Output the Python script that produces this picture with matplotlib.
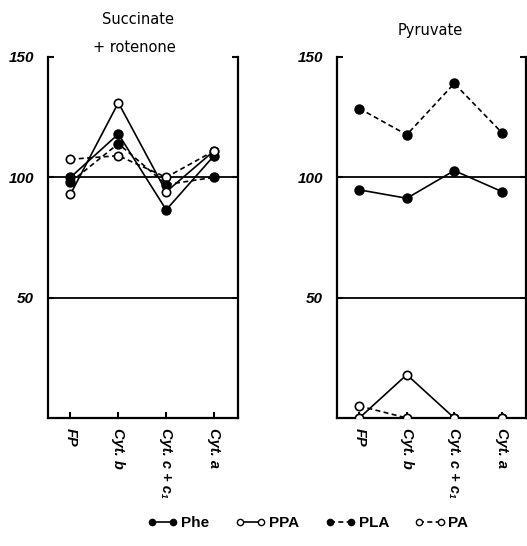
import matplotlib
matplotlib.use("Agg")
import matplotlib.pyplot as plt
import numpy as np
from matplotlib.lines import Line2D

categories = ["FP", "Cyt. b", "Cyt. c + c\u2081", "Cyt. a"]
yticks = [50, 100, 150]

# Succinate + rotenone panel
suc_phe = [100, 118, 86.5, 109]
suc_ppa = [93, 131, 94, 111]
suc_pla = [98, 114, 97, 100]
suc_pa = [107.5, 109, 100, 111]

# Pyruvate panel
pyr_phe = [94.8, 91.3, 102.8, 94.1]
pyr_ppa = [0, 18, 0, 0]
pyr_pla = [128.6, 117.7, 139, 118.6]
pyr_pa = [5, 0, 0, 0]

W, H = 527, 546
fig = plt.figure(figsize=(W / 100, H / 100), dpi=100)

def frac_axes(x0, x1, ytop, ybot):
    return fig.add_axes([x0 / W, 1 - ybot / H, (x1 - x0) / W, (ybot - ytop) / H])

ax1 = frac_axes(48, 238, 57, 418)
ax2 = frac_axes(337, 525.5, 57, 418)

tick_font = dict(family="Liberation Sans", style="italic", weight="bold", size=11)
xlab_font = dict(family="Liberation Sans", style="italic", weight="bold", size=10.5)

styles = {
    "Phe": dict(color="black", ls="-", marker="o", mfc="black", mec="black", ms=6.5),
    "PPA": dict(color="black", ls="-", marker="o", mfc="white", mec="black", ms=6, mew=1.2),
    "PLA": dict(color="black", ls=(0, (3, 2)), marker="o", mfc="black", mec="black", ms=6.5),
    "PA": dict(color="black", ls=(0, (3, 2)), marker="o", mfc="white", mec="black", ms=6, mew=1.2),
}

x = np.arange(len(categories))
for ax, series in [
    (ax1, [("PA", suc_pa), ("PLA", suc_pla), ("Phe", suc_phe), ("PPA", suc_ppa)]),
    (ax2, [("PA", pyr_pa), ("PLA", pyr_pla), ("Phe", pyr_phe), ("PPA", pyr_ppa)]),
]:
    for yv in [50, 100]:
        ax.axhline(yv, color="black", lw=1.3, zorder=1)
    for name, vals in series:
        ax.plot(x, vals, lw=1.2, zorder=3, **styles[name])
    ax.set_xlim(-0.47, 3.5)
    ax.set_ylim(0, 150)
    for s in ax.spines.values():
        s.set_linewidth(1.6)
    ax.spines["top"].set_visible(False)
    ax.set_xticks(x)
    ax.set_xticklabels(categories, rotation=-90, va="top", ha="center", **xlab_font)
    ax.set_yticks(yticks)
    ax.set_yticklabels([str(v) for v in yticks], **tick_font)
    ax.tick_params(axis="y", direction="in", left=True, right=True, length=4, width=1.5, pad=10)
    ax.tick_params(axis="x", direction="in", length=4, width=1.5, pad=7)

title_font = dict(family="DejaVu Sans", size=10.5, weight="medium")
fig.text(138 / W, 1 - 20 / H, "Succinate", ha="center", va="center", **title_font)
fig.text(134 / W, 1 - 47 / H, "+ rotenone", ha="center", va="center", **title_font)
fig.text(430 / W, 1 - 30 / H, "Pyruvate", ha="center", va="center", **title_font)

handles = []
labels = ["Phe", "PPA", "PLA", "PA"]
for name in labels:
    st = dict(styles[name])
    st["ms"] = 4.5
    st["mew"] = 1.0
    handles.append(Line2D([0, 1], [0, 0], lw=1.2, **st))
fig.legend(handles, labels, loc="center", bbox_to_anchor=(308 / W, 1 - 523 / H), ncol=4,
           frameon=False, numpoints=2, handlelength=2.0, handletextpad=0.2,
           columnspacing=1.7, prop=dict(family="Liberation Sans", size=11, weight="bold"))

fig.savefig("out.png", dpi=100)
